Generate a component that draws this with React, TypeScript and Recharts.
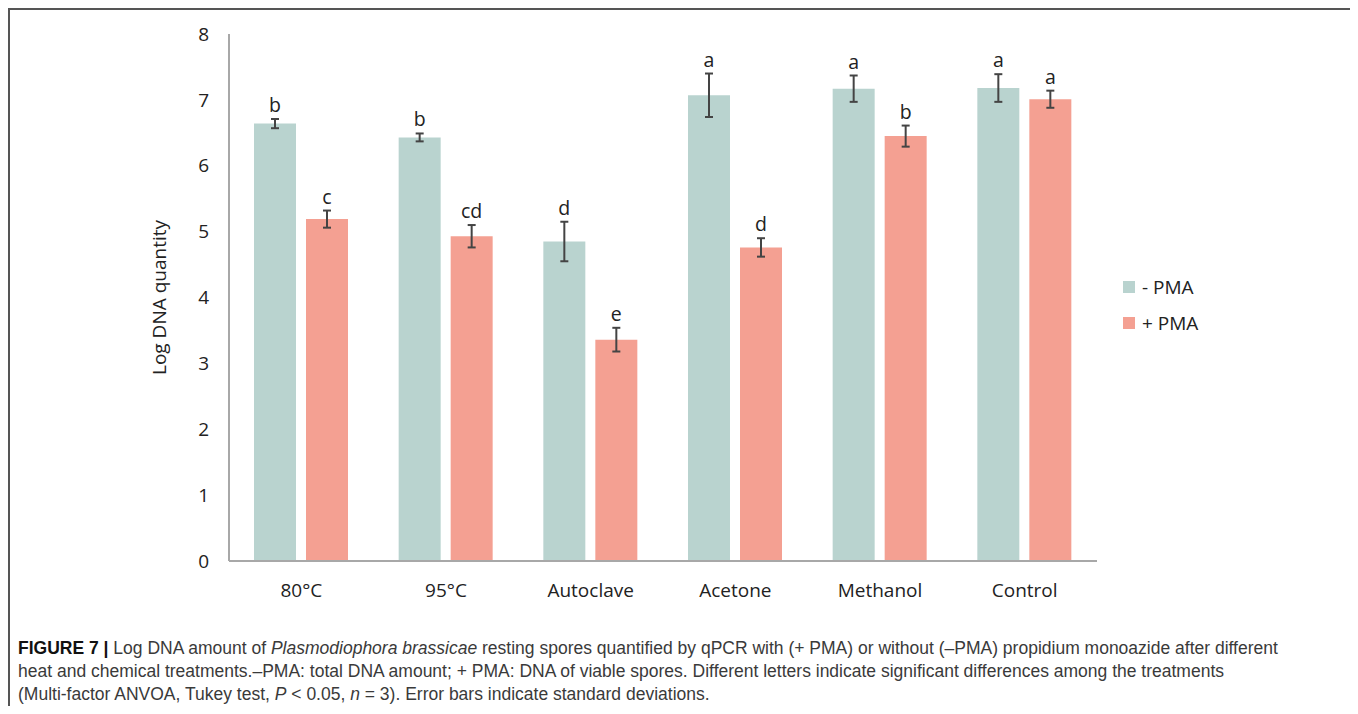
import React from "react";
import {Bar, BarChart, ErrorBar, LabelList, XAxis, YAxis} from "recharts";

const categories = ["80°C", "95°C", "Autoclave", "Acetone", "Methanol", "Control"];
const minusPma = [6.64, 6.43, 4.85, 7.07, 7.17, 7.18];
const minusPmaSd = [0.07, 0.06, 0.3, 0.33, 0.2, 0.21];
const minusLetters = ["b", "b", "d", "a", "a", "a"];
const plusPma = [5.19, 4.93, 3.36, 4.76, 6.45, 7.01];
const plusPmaSd = [0.13, 0.17, 0.18, 0.14, 0.16, 0.13];
const plusLetters = ["c", "cd", "e", "d", "b", "a"];
const yTicks = [0, 1, 2, 3, 4, 5, 6, 7, 8];

const TEAL = "#b9d3cf";
const SALMON = "#f4a092";
const FONT = "'Open Sans', sans-serif";

const data = categories.map((name, i) => ({
	name,
	minus: minusPma[i],
	minusSd: minusPmaSd[i],
	plus: plusPma[i],
	plusSd: plusPmaSd[i],
}));

// significance letter sits just above the top of the error bar
const letterLabel = (letters: string[], sds: number[]) => (props: any) => {
	const {x, y, width, height, value, index} = props;
	const pxPerUnit = height / value;
	const top = y - sds[index] * pxPerUnit;
	return <text x={x + width / 2} y={top - 7} textAnchor="middle" fontFamily={FONT} fontSize={19.5} fill="#222">
		{letters[index]}
	</text>;
};

const axisLabel = (props: any) => {
	const {viewBox} = props;
	const cx = viewBox.x + viewBox.width - 70;
	const cy = viewBox.y + viewBox.height / 2;
	return <text x={cx} y={cy} transform={`rotate(-90 ${cx} ${cy})`} textAnchor="middle" dominantBaseline="central"
							 fontFamily={FONT} fontSize={19} fill="#222">Log DNA quantity</text>;
};

const legendItems = [
	{label: "- PMA", color: TEAL},
	{label: "+ PMA", color: SALMON},
];

export default function App() {
	return <div style={{position: "relative", width: 1346, height: 698, boxSizing: "border-box",
		border: "2px solid #555", borderBottom: "none", background: "#fff"}}>
		<BarChart width={1340} height={610} data={data} margin={{top: 24, right: 253, left: 159, bottom: 9}}
							barGap={10} barSize={42}>
			<XAxis dataKey="name" axisLine={{stroke: "#a8a8a8", strokeWidth: 2}} tickLine={false} tickMargin={17} height={50}
						 tick={{fontFamily: FONT, fontSize: 19, fill: "#222"}}/>
			<YAxis domain={[0, 8]} ticks={yTicks} width={60} axisLine={{stroke: "#a8a8a8", strokeWidth: 2}} tickLine={false}
						 tickMargin={14} tick={{fontFamily: FONT, fontSize: 19, fill: "#222"}} label={{content: axisLabel}}/>
			<Bar dataKey="minus" fill={TEAL} isAnimationActive={false}>
				<ErrorBar dataKey="minusSd" width={4} stroke="#444" strokeWidth={2}/>
				<LabelList dataKey="minus" content={letterLabel(minusLetters, minusPmaSd)}/>
			</Bar>
			<Bar dataKey="plus" fill={SALMON} isAnimationActive={false}>
				<ErrorBar dataKey="plusSd" width={4} stroke="#444" strokeWidth={2}/>
				<LabelList dataKey="plus" content={letterLabel(plusLetters, plusPmaSd)}/>
			</Bar>
		</BarChart>
		<div style={{position: "absolute", left: 1113, top: 259, fontFamily: FONT, fontSize: 19, color: "#222"}}>
			{legendItems.map(item => <div key={item.label} style={{display: "flex", alignItems: "center", height: 36}}>
				<span style={{display: "inline-block", width: 12, height: 12, background: item.color, marginRight: 7}}/>
				{item.label}
			</div>)}
		</div>
		<div style={{position: "absolute", left: 8, top: 627, fontFamily: "'Liberation Sans', Arial, sans-serif",
			fontSize: 17.5, lineHeight: "23px", color: "#3a3a3a", whiteSpace: "nowrap"}}>
			<b style={{color: "#111"}}>FIGURE 7 |</b> Log DNA amount of <i>Plasmodiophora brassicae</i> resting spores quantified by
			qPCR with (+ PMA) or without (–PMA) propidium monoazide after different<br/>
			heat and chemical treatments.–PMA: total DNA amount; + PMA: DNA of viable spores. Different letters indicate
			significant differences among the treatments<br/>
			(Multi-factor ANVOA, Tukey test, <i>P</i> &lt; 0.05, <i>n</i> = 3). Error bars indicate standard deviations.
		</div>
	</div>;
}
